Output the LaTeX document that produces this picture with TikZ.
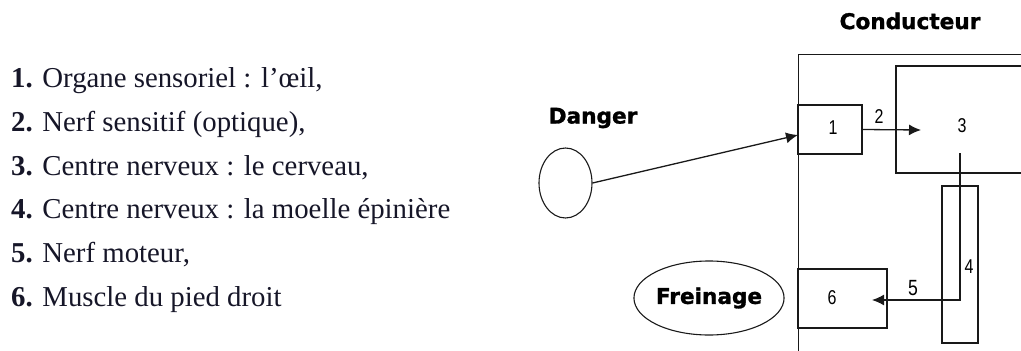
\documentclass[tikz,border=0pt]{standalone}
\usepackage{fontspec}
\setmainfont{Liberation Serif}
\newfontfamily\labelfont[BoldFont={DejaVu Sans Bold}, BoldFeatures={FakeBold=1.3}]{DejaVu Sans}
\newfontfamily\digitfont{Liberation Sans}
\usetikzlibrary{arrows.meta,shapes.geometric}
\definecolor{ink}{RGB}{22,22,40}
\definecolor{linecol}{RGB}{25,25,25}
\tikzset{
  item/.style={anchor=base west, inner sep=0pt, text=ink,
    font=\fontsize{28.8}{30}\selectfont},
  title/.style={inner sep=0pt, font=\labelfont\bfseries\fontsize{21.6}{22}\selectfont},
  organ/.style={draw=linecol, line width=1.4pt, rectangle, inner sep=0pt},
  oval/.style={draw=linecol, line width=1.1pt, ellipse, inner sep=0pt},
  num/.style={inner sep=0pt, font=\digitfont\fontsize{20}{20}\selectfont},
  nerve/.style={draw=linecol, line width=1.3pt, -{Latex[length=12pt,width=11pt]}}
}
\newcommand{\dg}[1]{\scalebox{0.8}[1]{#1}}
\begin{document}
\begin{tikzpicture}[x=1pt,y=-1pt]
  \useasboundingbox (0,0) rectangle (1021,351);
  \clip (0,0) rectangle (1021,351);

  % legend
  \node[item] (l1) at (11,87)  {\textbf{1.} Organe sensoriel : l’œil,};
  \node[item] (l2) at (11,131) {\textbf{2.} Nerf sensitif (optique),};
  \node[item] (l3) at (11,175) {\textbf{3.} Centre nerveux : le cerveau,};
  \node[item] (l4) at (11,218) {\textbf{4.} Centre nerveux : la moelle épinière};
  \node[item] (l5) at (11,262) {\textbf{5.} Nerf moteur,};
  \node[item] (l6) at (11,306) {\textbf{6.} Muscle du pied droit};

  % driver frame
  \node[title] (ctitle) at (910,21) {Conducteur};
  \node[organ, anchor=north west, minimum width=320pt, minimum height=340pt] (cond) at (798,54) {};

  % outside stimulus and response
  \node[title] (dtitle) at (593,118) {Danger};
  \node[oval, minimum width=53pt, minimum height=70pt] (danger) at (565.5,183) {};
  \node[oval, minimum width=148pt, minimum height=74pt, title] (frein) at (709,298) {Freinage};

  % organs
  \node[organ, minimum width=64pt, minimum height=49pt] (b1) at (830,129.5) {};
  \node[organ, line width=2.6pt, minimum width=132pt, minimum height=107pt] (b3) at (962,119.5) {};
  \node[organ, minimum width=36pt, minimum height=157pt] (b4) at (960,264.5) {};
  \node[organ, minimum width=89pt, minimum height=59pt] (b6) at (842.5,298.5) {};

  % organ numbers
  \node[num] (n1) at (833,128) {\dg{1}};
  \node[num] (n2) at (879,117) {\dg{2}};
  \node[num] (n3) at (962,126) {\dg{3}};
  \node[num] (n4) at (969,267) {\dg{4}};
  \node[num, font=\digitfont\fontsize{22}{22}\selectfont] (n5) at (913,288) {\dg{5}};
  \node[num] (n6) at (832,298) {\dg{6}};

  % nerve paths
  \coordinate (eye) at (798,135);
  \coordinate (brainin) at (921,130);
  \coordinate (brainout) at (960,153);
  \coordinate (muscle) at (872,300);
  \draw[nerve] (danger.east) -- (eye);
  \draw[nerve] (b1.east) -- (brainin);
  \draw[nerve] (brainout) |- (muscle);
\end{tikzpicture}
\end{document}
